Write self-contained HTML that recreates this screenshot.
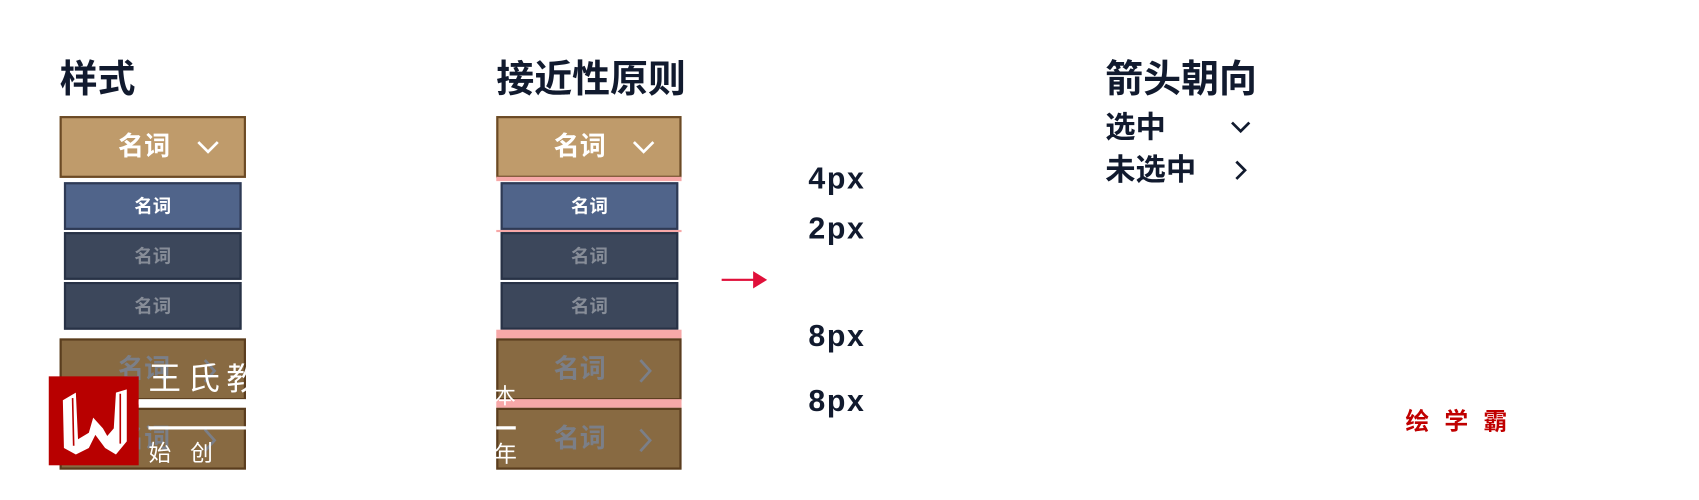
<!DOCTYPE html>
<html><head><meta charset="utf-8"><style>
html,body{margin:0;padding:0;background:#fff;width:1699px;height:500px;overflow:hidden}
#s{position:absolute;left:0;top:0;width:1568px;height:461px;transform:scale(1.08355,1.0846);transform-origin:0 0;font-family:"Liberation Sans","Noto Sans CJK SC",sans-serif}
.a{position:absolute;box-sizing:border-box}
.t{position:absolute;font-weight:bold;color:#111a2e;white-space:nowrap;line-height:1}
.hd{background:#bf9b6b;border:2px solid #6b4a25}
.br{background:#886a42;border:2px solid #5a3d1e}
.bl{background:#50648a;border:2px solid #2e3a55}
.dk{background:#3c475b;border:2px solid #283246}
.lb{position:absolute;font-weight:bold;white-space:nowrap;line-height:1}
.pk{position:absolute;background:#f7a8a8}
</style></head><body><div id="s">
<div class="t" style="left:55px;top:56px;font-size:35px">样式</div>
<div class="t" style="left:458px;top:56px;font-size:35px">接近性原则</div>
<div class="t" style="left:1020px;top:56px;font-size:35px">箭头朝向</div>
<div class="t" style="left:1020px;top:104px;font-size:28px">选中</div>
<div class="t" style="left:1020px;top:143px;font-size:28px">未选中</div>
<svg class="a" style="left:1134px;top:108px" width="24" height="20"><polyline points="3,5 11,13 19,5" fill="none" stroke="#111a2e" stroke-width="2.5"/></svg>
<svg class="a" style="left:1136px;top:146px" width="20" height="24"><polyline points="5,3 13,11 5,19" fill="none" stroke="#111a2e" stroke-width="2.5"/></svg>

<!-- column 1 -->
<div class="a hd" style="left:55px;top:107px;width:172px;height:57px"></div>
<div class="lb" style="left:109px;top:124px;font-size:24px;color:#fff">名词</div>
<svg class="a" style="left:180px;top:126px" width="26" height="20"><polyline points="3,5 12,14 21,5" fill="none" stroke="#fff" stroke-width="2.5"/></svg>
<div class="a bl" style="left:59px;top:168px;width:164px;height:44px"></div>
<div class="lb" style="left:124px;top:182px;font-size:17px;color:#fff">名词</div>
<div class="a dk" style="left:59px;top:214px;width:164px;height:44px"></div>
<div class="lb" style="left:124px;top:228px;font-size:17px;color:#878d98">名词</div>
<div class="a dk" style="left:59px;top:260px;width:164px;height:44px"></div>
<div class="lb" style="left:124px;top:274px;font-size:17px;color:#878d98">名词</div>
<div class="a br" style="left:55px;top:312px;width:172px;height:57px"></div>
<div class="lb" style="left:109px;top:329px;font-size:24px;color:#7b7f88">名词</div>
<svg class="a" style="left:184px;top:328px" width="20" height="28"><polyline points="5,4 14,14 5,24" fill="none" stroke="#7b7f88" stroke-width="2.5"/></svg>
<div class="a br" style="left:55px;top:376px;width:172px;height:57px"></div>
<div class="lb" style="left:109px;top:393px;font-size:24px;color:#7b7f88">名词</div>
<svg class="a" style="left:184px;top:392px" width="20" height="28"><polyline points="5,4 14,14 5,24" fill="none" stroke="#7b7f88" stroke-width="2.5"/></svg>

<!-- logo overlay -->
<div class="a" style="left:45px;top:347px;width:83px;height:82px;background:#b80000"></div>
<svg class="a" style="left:45px;top:347px" width="83" height="82"><polygon points="13,22 25,15 27,58 37,52 41,38 50,48 54,55 60,48 62,15 72,12 72,60 62,72 52,66 43,54 37,66 25,72 14,66" fill="#fff"/><line x1="22" y1="20" x2="23" y2="64" stroke="#b80000" stroke-width="1.5"/><line x1="66" y1="16" x2="66" y2="62" stroke="#b80000" stroke-width="1.5"/></svg>
<div class="lb" style="left:137px;top:335px;font-size:30px;color:#fff;font-weight:normal;letter-spacing:6px;width:90px;overflow:hidden">王氏教</div>
<div class="a" style="left:128px;top:368px;width:99px;height:5px;background:#fff"></div>
<div class="a" style="left:137px;top:393px;width:90px;height:3px;background:#fff"></div>
<div class="lb" style="left:137px;top:408px;font-size:21px;color:#fff;font-weight:normal">始&nbsp;&nbsp;&nbsp;创</div>

<!-- column 2 -->
<div class="a hd" style="left:458px;top:107px;width:171px;height:57px"></div>
<div class="lb" style="left:511px;top:124px;font-size:24px;color:#fff">名词</div>
<svg class="a" style="left:582px;top:126px" width="26" height="20"><polyline points="3,5 12,14 21,5" fill="none" stroke="#fff" stroke-width="2.5"/></svg>
<div class="pk" style="left:458px;top:163px;width:171px;height:4px"></div>
<div class="a bl" style="left:462px;top:168px;width:164px;height:44px"></div>
<div class="lb" style="left:527px;top:182px;font-size:17px;color:#fff">名词</div>
<div class="pk" style="left:458px;top:212px;width:171px;height:2px"></div>
<div class="a dk" style="left:462px;top:214px;width:164px;height:44px"></div>
<div class="lb" style="left:527px;top:228px;font-size:17px;color:#878d98">名词</div>
<div class="a dk" style="left:462px;top:260px;width:164px;height:44px"></div>
<div class="lb" style="left:527px;top:274px;font-size:17px;color:#878d98">名词</div>
<div class="pk" style="left:458px;top:304px;width:171px;height:8px"></div>
<div class="a br" style="left:458px;top:312px;width:171px;height:57px"></div>
<div class="lb" style="left:511px;top:329px;font-size:24px;color:#7b7f88">名词</div>
<svg class="a" style="left:586px;top:328px" width="20" height="28"><polyline points="5,4 14,14 5,24" fill="none" stroke="#7b7f88" stroke-width="2.5"/></svg>
<div class="pk" style="left:458px;top:368px;width:171px;height:8px"></div>
<div class="a br" style="left:458px;top:376px;width:171px;height:57px"></div>
<div class="lb" style="left:511px;top:393px;font-size:24px;color:#7b7f88">名词</div>
<svg class="a" style="left:586px;top:392px" width="20" height="28"><polyline points="5,4 14,14 5,24" fill="none" stroke="#7b7f88" stroke-width="2.5"/></svg>
<div class="lb" style="left:456px;top:356px;font-size:20px;color:#fff;font-weight:normal">本</div>
<div class="a" style="left:458px;top:393px;width:18px;height:3px;background:#fff"></div>
<div class="lb" style="left:456px;top:409px;font-size:21px;color:#fff;font-weight:normal">年</div>

<!-- arrow + labels -->
<div class="a" style="left:666px;top:257px;width:32px;height:2px;background:#e0103a"></div>
<svg class="a" style="left:695px;top:250px" width="14" height="16"><polygon points="0,0 13,8 0,16" fill="#e0103a"/></svg>
<div class="t" style="left:746px;top:151px;font-size:28px;letter-spacing:1.5px">4px</div>
<div class="t" style="left:746px;top:197px;font-size:28px;letter-spacing:1.5px">2px</div>
<div class="t" style="left:746px;top:296px;font-size:28px;letter-spacing:1.5px">8px</div>
<div class="t" style="left:746px;top:356px;font-size:28px;letter-spacing:1.5px">8px</div>
<div class="lb" style="left:1297px;top:378px;font-size:22px;color:#c00000;letter-spacing:14px">绘学霸</div>
</div></body></html>
